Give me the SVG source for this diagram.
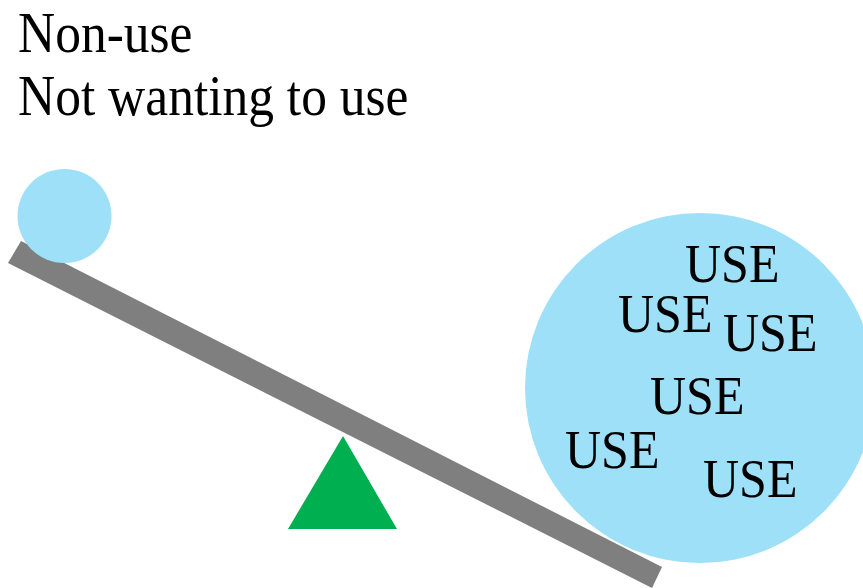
<svg xmlns="http://www.w3.org/2000/svg" width="863" height="588" viewBox="0 0 863 588">
  <style>
    .label { font-family: "Liberation Serif", "Times New Roman", serif; fill: #000; }
    .caption { font-size: 51.5px; }
    .word { font-size: 50px; }
    .ball { fill: #9DE0F7; }
    .beam { fill: #7F7F7F; }
    .pivot { fill: #00B050; }
  </style>
  <rect width="863" height="588" fill="#fff"/>

  <!-- text glyphs are drawn slightly taller than wide -->
  <g id="caption">
    <text class="label caption" transform="translate(18,52) scale(1,1.1)">Non-use</text>
    <text class="label caption" transform="translate(18,115) scale(1,1.1)">Not wanting to use</text>
  </g>

  <g id="pivot">
    <polygon class="pivot" points="343,436 397,529 288,529"/>
  </g>

  <g id="beam">
    <polygon class="beam" points="21,241 662,567 652,588 8,263"/>
  </g>

  <g id="small-ball">
    <circle class="ball" cx="64.5" cy="216" r="47"/>
  </g>

  <g id="big-ball">
    <circle class="ball" cx="700" cy="388" r="175"/>
    <text class="label word" transform="translate(685,282) scale(1,1.11)">USE</text>
    <text class="label word" transform="translate(618,332) scale(1,1.11)">USE</text>
    <text class="label word" transform="translate(723,351) scale(1,1.11)">USE</text>
    <text class="label word" transform="translate(650,414) scale(1,1.11)">USE</text>
    <text class="label word" transform="translate(565,468) scale(1,1.11)">USE</text>
    <text class="label word" transform="translate(703,497) scale(1,1.11)">USE</text>
  </g>
</svg>
